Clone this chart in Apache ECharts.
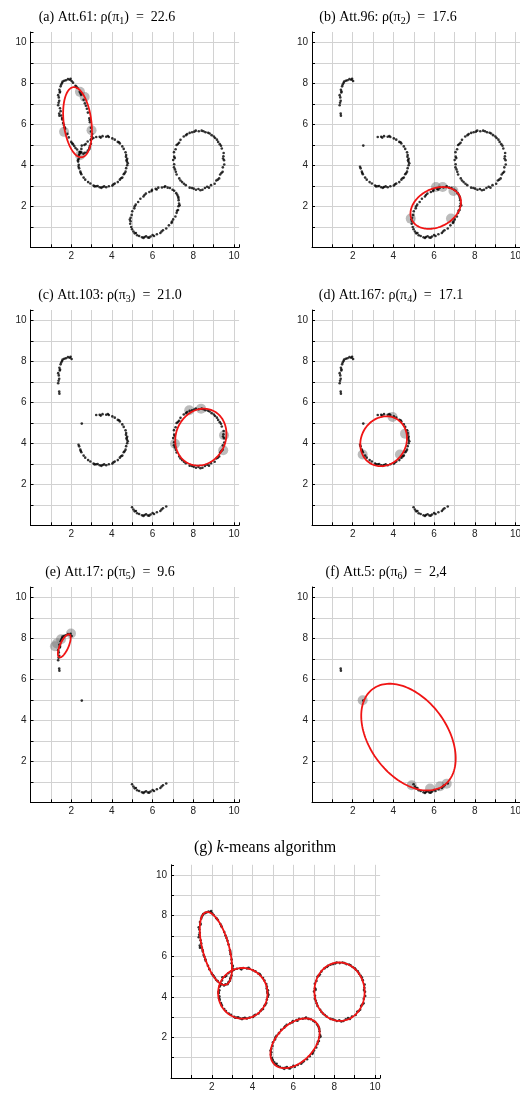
<!DOCTYPE html>
<html><head><meta charset="utf-8">
<script src="https://cdn.jsdelivr.net/npm/echarts@6/dist/echarts.min.js"></script>
<style>html,body{margin:0;padding:0;background:#fff}#c{width:520px;height:1093px}</style>
</head><body><div id="c"></div><script>
// ---------- data ----------
const aTop = [[2.02,8.11],[1.93,8.17],[1.84,8.20],[1.74,8.15],[1.66,8.12],[1.58,8.08],[1.51,7.94],[1.48,7.85],[1.42,7.68],[1.44,7.55],[1.39,7.31],[1.41,7.15],[1.45,7.60],[1.36,7.42],[1.55,8.01],[1.97,8.22],[1.38,7.05],[1.36,6.93]];
const aLow = [[1.41,6.52],[1.42,6.42]];
const aLost = [[1.45,6.78],[1.48,6.64],[1.51,6.43],[1.56,6.23],[1.64,5.97],[1.70,5.78],[1.81,5.53],[1.88,5.36],[2.00,5.14],[2.09,5.02],[2.21,4.84],[2.29,4.77],[2.41,4.65],[2.49,4.62],[2.60,4.56],[2.67,4.61],[2.77,4.62],[2.82,4.72],[2.89,4.79],[2.92,4.94],[2.97,5.05],[2.97,5.26],[3.01,5.41],[2.97,5.65],[2.97,5.83],[2.92,6.10],[2.89,6.29],[2.82,6.57],[2.77,6.76],[2.67,7.02],[2.61,7.19],[2.49,7.44],[2.42,7.58],[2.30,7.78],[2.21,7.88],[2.09,8.03],[1.55,6.30],[1.68,5.85],[2.05,5.07],[2.45,4.64],[2.90,4.87],[3.03,5.52],[2.91,6.20],[2.72,6.90],[2.46,7.50],[2.25,7.84],[1.60,6.06],[2.15,4.94]];
const bKept = [[2.39,3.85],[2.45,3.69],[2.50,3.56],[2.61,3.40],[2.69,3.30],[2.83,3.18],[2.94,3.11],[3.10,3.01],[3.23,2.98],[3.40,2.93],[3.54,2.94],[3.72,2.93],[3.85,2.98],[4.02,3.01],[4.14,3.11],[4.29,3.18],[4.39,3.30],[4.51,3.40],[4.58,3.56],[4.67,3.69],[4.70,3.86],[4.75,4.00],[4.74,4.18],[4.75,4.32],[4.70,4.50],[4.67,4.63],[4.58,4.80],[4.51,4.92],[4.39,5.06],[4.29,5.14],[4.14,5.25],[4.02,5.31],[3.85,5.38],[3.72,5.39],[3.54,5.42],[3.40,5.39],[3.23,5.38],[2.36,3.93],[2.47,3.62],[3.30,2.99],[3.48,2.90],[3.62,2.97],[4.08,3.07],[4.62,3.61],[4.78,4.10],[4.69,4.41],[4.35,5.12],[3.80,5.43],[3.45,5.35],[3.15,2.97],[4.45,3.37],[4.72,4.25]];
const bIso = [[2.52,4.96]];
const bLost = [[3.09,5.33],[2.96,5.23],[2.81,5.16],[2.71,5.04],[2.50,4.80],[2.45,4.63],[2.38,4.50],[2.37,4.32],[2.34,4.18],[2.37,4.02],[3.02,5.29],[2.65,4.99],[2.41,4.56],[2.33,4.25]];
const clusterC = [[9.51,4.25],[9.48,4.44],[9.49,4.60],[9.40,4.82],[9.36,4.95],[9.22,5.14],[9.16,5.25],[9.01,5.40],[8.90,5.47],[8.73,5.59],[8.60,5.61],[8.41,5.69],[8.27,5.66],[8.12,5.69],[7.94,5.61],[7.82,5.58],[7.64,5.47],[7.53,5.40],[7.37,5.24],[7.30,5.10],[7.18,4.99],[7.13,4.78],[7.05,4.64],[7.06,4.42],[7.01,4.26],[7.06,4.05],[7.05,3.90],[7.14,3.68],[7.18,3.55],[7.31,3.36],[7.37,3.26],[7.54,3.10],[7.63,3.03],[7.82,2.91],[7.93,2.89],[8.13,2.81],[8.25,2.84],[8.45,2.81],[8.57,2.89],[8.77,2.91],[8.87,3.03],[9.05,3.10],[9.13,3.26],[9.27,3.36],[9.32,3.55],[9.44,3.68],[9.45,3.90],[9.52,4.04],[9.46,4.33],[9.30,5.03],[8.80,5.55],[8.50,5.66],[7.70,5.52],[7.24,5.04],[7.09,4.35],[7.10,3.80],[7.45,3.18],[8.02,2.86],[8.35,2.78],[8.68,2.95],[9.20,3.30],[9.38,3.62],[8.05,5.64],[9.07,5.33]];
const dKept = [[4.99,0.88],[5.06,0.77],[5.12,0.68],[5.24,0.59],[5.34,0.55],[5.48,0.49],[5.60,0.50],[5.77,0.48],[5.90,0.53],[6.07,0.55],[6.21,0.64],[6.38,0.70],[6.51,0.83],[6.67,0.92],[5.55,0.45],[5.68,0.54],[5.83,0.47],[6.00,0.60],[6.44,0.77],[5.18,0.70]];
const dLost = [[6.80,1.07],[6.93,1.19],[7.01,1.36],[7.12,1.50],[7.18,1.68],[7.25,1.82],[7.27,2.00],[7.30,2.13],[7.28,2.30],[7.27,2.41],[7.21,2.56],[7.16,2.64],[7.06,2.76],[6.98,2.81],[6.85,2.89],[6.74,2.91],[6.58,2.94],[6.46,2.92],[6.28,2.91],[6.15,2.85],[5.97,2.80],[5.84,2.70],[5.67,2.62],[5.55,2.48],[5.40,2.37],[5.29,2.21],[5.17,2.08],[5.10,1.90],[5.00,1.76],[4.97,1.58],[4.92,1.44],[4.92,1.27],[4.90,1.15],[4.95,0.99],[7.33,2.05],[7.20,1.78],[6.62,2.98],[6.20,2.82],[5.60,2.55],[5.12,2.00],[4.88,1.35],[6.95,1.25],[5.95,2.74],[7.25,2.48]];

// highlighted (sampled) points per panel
const hiA = [[2.43,7.58],[2.66,7.33],[1.65,5.63],[3.00,5.71],[2.43,4.49]];
const hiB = [[4.85,1.40],[6.09,2.94],[6.42,2.94],[6.95,2.75],[6.83,1.40]];
const hiC = [[7.80,5.61],[8.38,5.69],[9.51,4.39],[7.10,3.98],[9.47,3.66]];
const hiD = [[3.96,5.28],[4.57,4.47],[2.49,3.45],[4.32,3.45]];
const hiE = [[1.20,7.61],[1.50,7.95],[1.99,8.23],[1.30,7.75]];
const hiF = [[2.49,4.98],[4.90,0.83],[5.80,0.67],[6.29,0.78],[6.62,0.91]];

// fitted ellipses: [centerX, centerY, semiMajor, semiMinor, angleDeg]
const ellA = [[2.31,6.10,1.72,0.68,97]];
const ellB = [[6.08,1.92,1.31,0.93,27]];
const ellC = [[8.37,4.30,1.42,1.22,65]];
const ellD = [[3.52,4.10,1.26,1.10,58]];
const ellE = [[1.66,7.63,0.61,0.21,66]];
const ellF = [[4.74,3.18,2.93,1.89,127]];
const ellKmeans = [[2.20,6.38,1.85,0.65,105],[3.52,4.17,1.25,1.21,95],[8.26,4.25,1.44,1.23,93],[6.08,1.71,1.45,0.92,46]];

// titles: [before subscript, subscript, after]
const titleParts = [
  ['(a) Att.61: ρ(π','1',')\u2002=\u200222.6'],
  ['(b) Att.96: ρ(π','2',')\u2002=\u200217.6'],
  ['(c) Att.103: ρ(π','3',')\u2002=\u200221.0'],
  ['(d) Att.167: ρ(π','4',')\u2002=\u200217.1'],
  ['(e) Att.17: ρ(π','5',')\u2002=\u20029.6'],
  ['(f) Att.5: ρ(π','6',')\u2002=\u20022,4']
];
const titleG = ['(g) ','k','-means algorithm'];

const panelPoints = [
  [aTop, aLow, aLost, bKept, bIso, bLost, clusterC, dKept, dLost],
  [aTop, aLow, bKept, bIso, clusterC, dKept, dLost],
  [aTop, aLow, bKept, bIso, clusterC, dKept],
  [aTop, aLow, bKept, bIso, dKept],
  [aTop, aLow, bIso, dKept],
  [aLow, bIso, dKept],
  [aTop, aLow, aLost, bKept, bIso, bLost, clusterC, dKept, dLost]
];
const panelHi = [hiA, hiB, hiC, hiD, hiE, hiF, []];
const panelEll = [ellA, ellB, ellC, ellD, ellE, ellF, ellKmeans];

// ---------- layout ----------
const boxes = [
  {left:30.5, top:32, width:208.6, height:215.3},
  {left:312, top:32, width:208.6, height:215.3},
  {left:30.5, top:310, width:208.6, height:215.3},
  {left:312, top:310, width:208.6, height:215.3},
  {left:30.5, top:587, width:208.6, height:215.3},
  {left:312, top:587, width:208.6, height:215.3},
  {left:171, top:864.8, width:209.1, height:213.2}
];
const titlePos = [[107,8],[388,8],[110,286],[391,286],[110,563],[386,563],[265,838]];

const gridCol = '#d2d2d2';
function xAx(i){return {gridIndex:i,type:'value',min:0,max:10.25,interval:1,
  axisLine:{onZero:false,lineStyle:{color:'#000',width:1}},
  axisTick:{show:true,inside:true,length:3,lineStyle:{color:'#000'}},
  axisLabel:{formatter:v=>(v>0&&Math.abs(v%2)<1e-9)?String(v):'',fontFamily:'Liberation Sans',fontSize:10,color:'#222',margin:4},
  splitLine:{show:true,showMinLine:false,showMaxLine:false,lineStyle:{color:gridCol,width:1}}};}
function yAx(i){return {gridIndex:i,type:'value',min:0,max:10.5,interval:1,
  axisLine:{onZero:false,lineStyle:{color:'#000',width:1}},
  axisTick:{show:true,inside:true,length:3,lineStyle:{color:'#000'}},
  axisLabel:{formatter:v=>(v>0&&Math.abs(v%2)<1e-9)?String(v):'',fontFamily:'Liberation Sans',fontSize:10,color:'#222',margin:4},
  splitLine:{show:true,showMinLine:false,showMaxLine:false,lineStyle:{color:gridCol,width:1}}};}

const richStyle = {
  n:{fontFamily:'Liberation Serif',fontSize:14,fontWeight:'normal',color:'#000',lineHeight:18},
  s:{fontFamily:'Liberation Serif',fontSize:10,fontWeight:'normal',color:'#000',lineHeight:18,verticalAlign:'bottom'}
};
const richG = {
  n:{fontFamily:'Liberation Serif',fontSize:16,fontWeight:'normal',color:'#000',lineHeight:20},
  i:{fontFamily:'Liberation Serif',fontSize:16,fontWeight:'normal',color:'#000',lineHeight:20,fontStyle:'italic'}
};

const titles = titleParts.map((t,k)=>({
  text:'{n|'+t[0]+'}{s|'+t[1]+'}{n|'+t[2]+'}',
  left:titlePos[k][0], top:titlePos[k][1], textAlign:'center', padding:0,
  textStyle:{fontWeight:'normal',rich:richStyle}
}));
titles.push({text:'{n|'+titleG[0]+'}{i|'+titleG[1]+'}{n|'+titleG[2]+'}',
  left:titlePos[6][0], top:titlePos[6][1], textAlign:'center', padding:0, textStyle:{fontWeight:'normal',rich:richG}});

const grids = boxes.map(b=>Object.assign({outerBoundsMode:'none',containLabel:false},b));
const xAxes = boxes.map((b,i)=>xAx(i));
const yAxes = boxes.map((b,i)=>yAx(i));

function ellipseRender(p, api){
  const cx=api.value(0), cy=api.value(1), a=api.value(2), b=api.value(3), th=api.value(4)*Math.PI/180;
  const pts=[];
  for(let k=0;k<144;k++){
    const t=k/144*2*Math.PI;
    const x=cx+a*Math.cos(t)*Math.cos(th)-b*Math.sin(t)*Math.sin(th);
    const y=cy+a*Math.cos(t)*Math.sin(th)+b*Math.sin(t)*Math.cos(th);
    pts.push(api.coord([x,y]));
  }
  return {type:'polygon',shape:{points:pts},style:{fill:'none',stroke:'#f01414',lineWidth:1.8}};
}

const series=[];
boxes.forEach((b,i)=>{
  series.push({type:'scatter',xAxisIndex:i,yAxisIndex:i,data:panelHi[i],symbol:'circle',symbolSize:10,
    itemStyle:{color:'rgba(115,115,115,0.6)'},z:2,silent:true});
  series.push({type:'scatter',xAxisIndex:i,yAxisIndex:i,data:[].concat(...panelPoints[i]),symbol:'circle',symbolSize:2.6,
    itemStyle:{color:'#000'},z:3,silent:true});
  series.push({type:'custom',xAxisIndex:i,yAxisIndex:i,data:panelEll[i],encode:{x:0,y:1},renderItem:ellipseRender,z:4,silent:true});
});

const chart = echarts.init(document.getElementById('c'),null,{renderer:'canvas'});
chart.setOption({animation:false,backgroundColor:'#fff',title:titles,grid:grids,xAxis:xAxes,yAxis:yAxes,series:series});
</script></body></html>
